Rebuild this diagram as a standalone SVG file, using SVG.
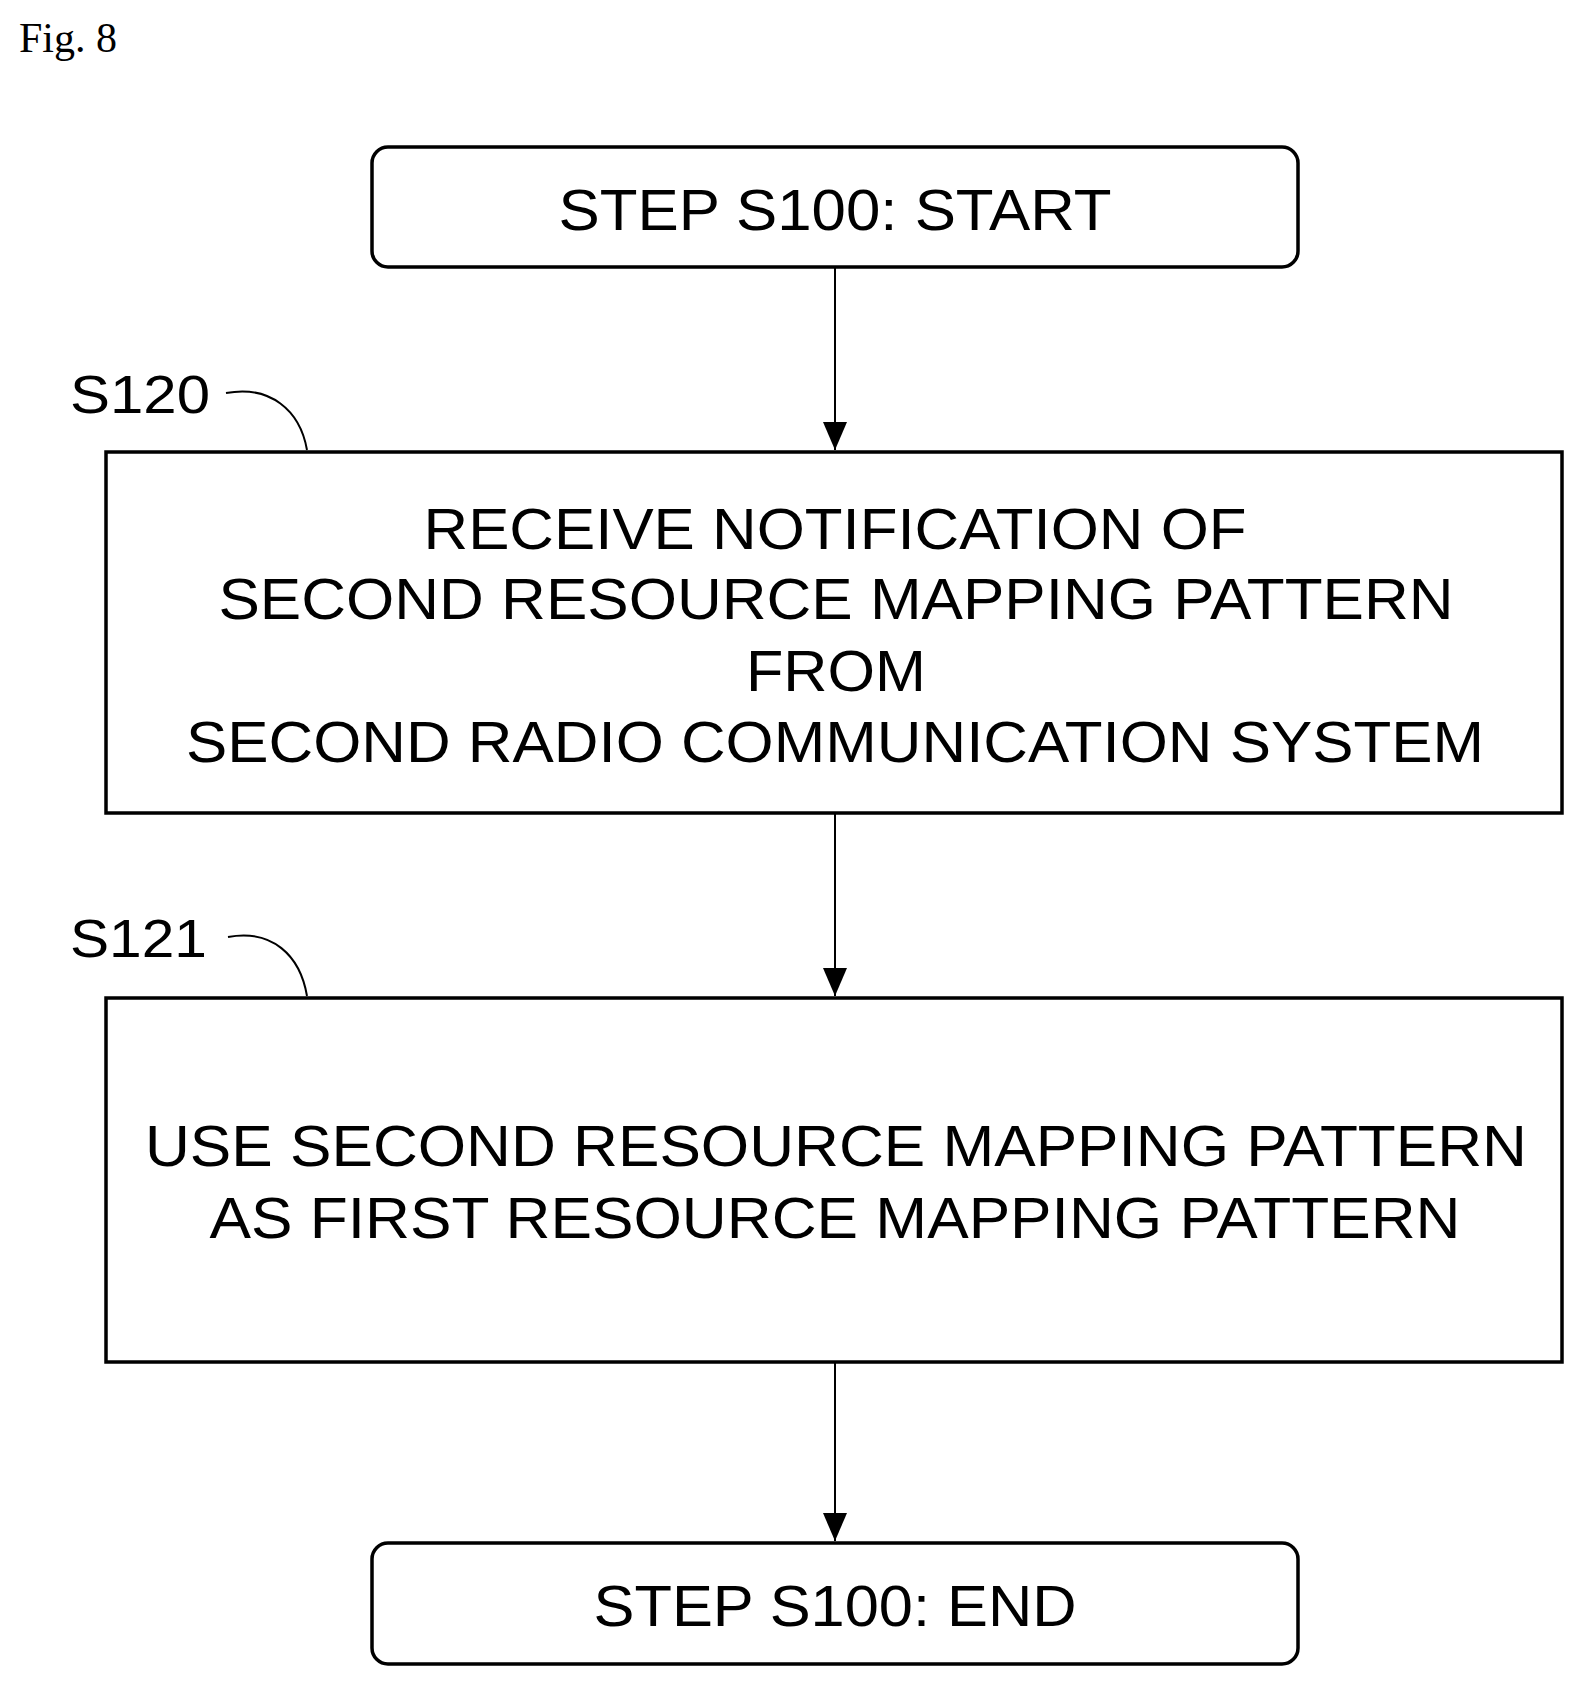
<svg xmlns="http://www.w3.org/2000/svg" width="1583" height="1686" viewBox="0 0 1583 1686">
<style>
.b{fill:#fff;stroke:#000;stroke-width:3.5}
.t{font-family:"Liberation Sans",Arial,sans-serif;font-size:58px;fill:#000;text-anchor:middle}
.l{font-family:"Liberation Sans",Arial,sans-serif;font-size:54px;fill:#000}
.c{stroke:#000;stroke-width:2;fill:none}
</style>
<defs><marker id="a" markerWidth="28" markerHeight="24" refX="28" refY="12" orient="auto" markerUnits="userSpaceOnUse"><path d="M0,0 L28,12 L0,24 z" fill="#000"/></marker></defs>
<rect width="1583" height="1686" fill="#fff"/>
<text x="19" y="52" font-family="Liberation Serif,serif" font-size="42">Fig. 8</text>
<g id="start"><rect class="b" x="372" y="147" width="926" height="120" rx="16"/><text class="t" x="835" y="230" textLength="553" lengthAdjust="spacingAndGlyphs">STEP S100: START</text></g>
<g id="s120"><rect class="b" x="106" y="452" width="1456" height="361"/>
<text class="t" x="835" y="549" textLength="823" lengthAdjust="spacingAndGlyphs">RECEIVE NOTIFICATION OF</text>
<text class="t" x="836" y="619" textLength="1235" lengthAdjust="spacingAndGlyphs">SECOND RESOURCE MAPPING PATTERN</text>
<text class="t" x="836" y="691" textLength="180" lengthAdjust="spacingAndGlyphs">FROM</text>
<text class="t" x="835" y="762" textLength="1298" lengthAdjust="spacingAndGlyphs">SECOND RADIO COMMUNICATION SYSTEM</text>
<text class="l" x="70" y="413" textLength="140" lengthAdjust="spacingAndGlyphs">S120</text>
<path class="c" d="M226,393 C270,385 300,410 307,450"/></g>
<g id="s121"><rect class="b" x="106" y="998" width="1456" height="364"/>
<text class="t" x="836" y="1166" textLength="1382" lengthAdjust="spacingAndGlyphs">USE SECOND RESOURCE MAPPING PATTERN</text>
<text class="t" x="835" y="1238" textLength="1251" lengthAdjust="spacingAndGlyphs">AS FIRST RESOURCE MAPPING PATTERN</text>
<text class="l" x="70" y="957" textLength="137" lengthAdjust="spacingAndGlyphs">S121</text>
<path class="c" d="M228,937 C272,929 300,955 307,996"/></g>
<g id="end"><rect class="b" x="372" y="1543" width="926" height="121" rx="16"/><text class="t" x="835" y="1626" textLength="483" lengthAdjust="spacingAndGlyphs">STEP S100: END</text></g>
<g id="connectors">
<line class="c" x1="835" y1="267" x2="835" y2="450" marker-end="url(#a)"/>
<line class="c" x1="835" y1="813" x2="835" y2="996" marker-end="url(#a)"/>
<line class="c" x1="835" y1="1362" x2="835" y2="1541" marker-end="url(#a)"/>
</g>
</svg>
